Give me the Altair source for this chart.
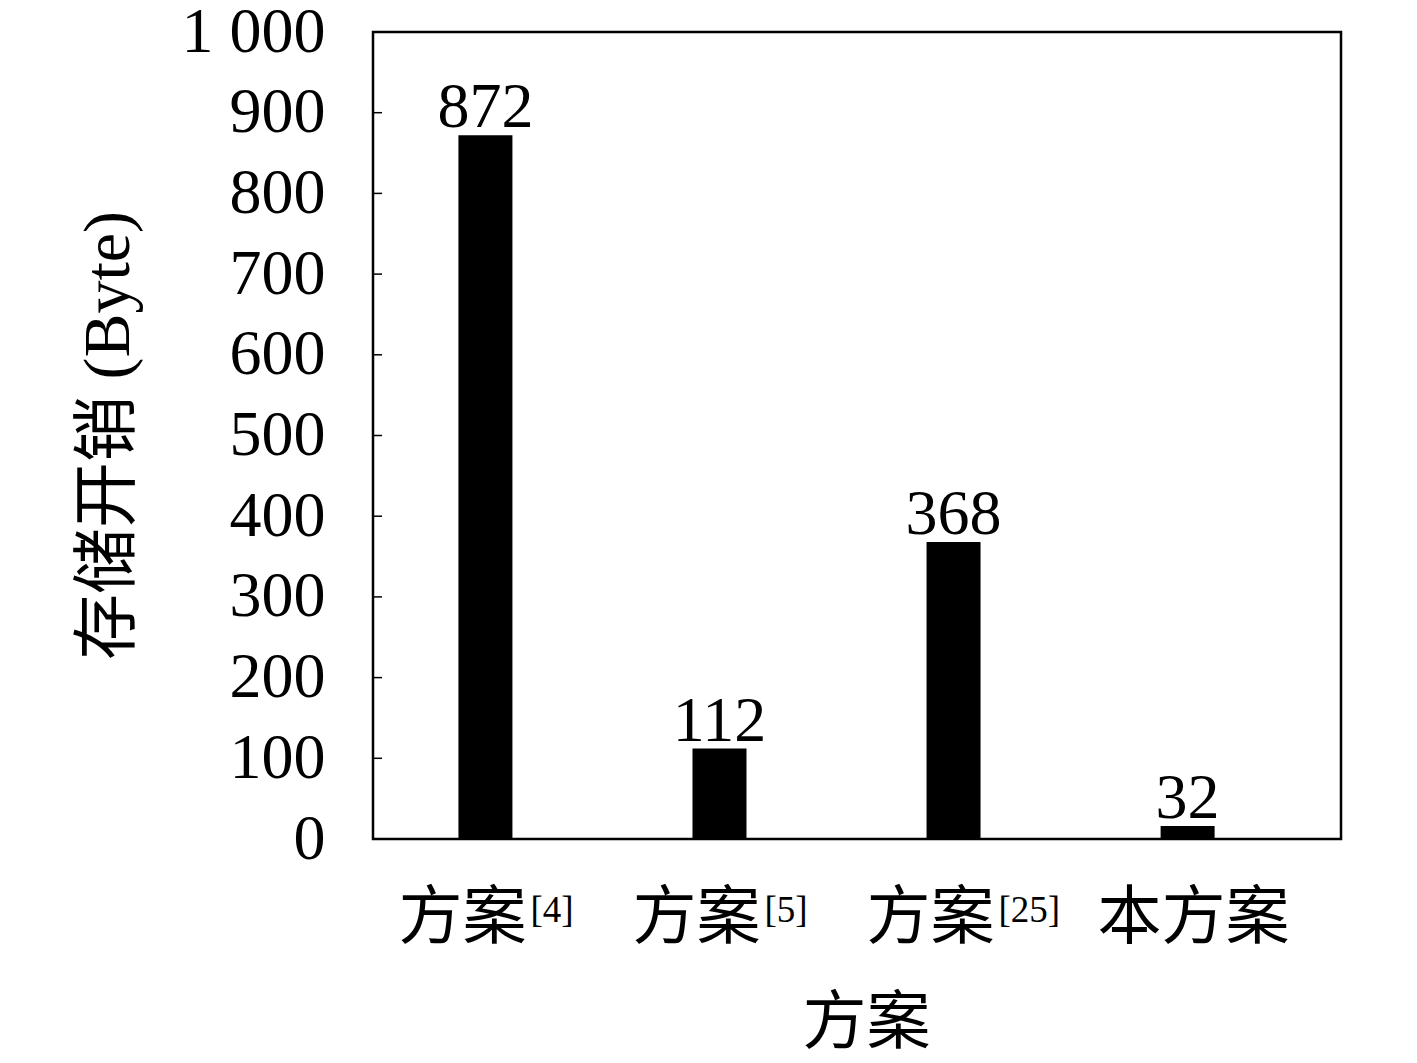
import altair as alt
import pandas as pd

# ---- data ----
schemes = ["方案", "方案", "方案", "本方案"]
refs = ["[4]", "[5]", "[25]", ""]
bar_heights = [872, 112, 368, 16]
bar_labels = ["872", "112", "368", "32"]
y_ticks = [0, 100, 200, 300, 400, 500, 600, 700, 800, 900, 1000]

df = pd.DataFrame({
    "idx": list(range(1, len(schemes) + 1)),
    "scheme": schemes,
    "ref": refs,
    "value": bar_heights,
    "label": bar_labels,
})
ticks_df = pd.DataFrame({"t": y_ticks})

FONT = "Liberation Serif, Noto Sans CJK SC"
W, H = 968, 807

xscale = alt.Scale(domain=[0.541, 4.634], nice=False, zero=False)
yscale = alt.Scale(domain=[0, 1000], nice=False)

base = alt.Chart(df)

bars = base.mark_bar(size=54, color="black").encode(
    x=alt.X("idx:Q", scale=xscale,
            axis=alt.Axis(labels=False, ticks=False, domain=False, grid=False,
                          title="方案", titleFont=FONT, titleFontSize=64,
                          titleFontWeight="normal", titleColor="black",
                          titleX=493, titleY=184, titleBaseline="middle",
                          titleAlign="center")),
    y=alt.Y("value:Q", scale=yscale,
            axis=alt.Axis(values=y_ticks, ticks=False, domain=False, grid=False,
                          labelFont=FONT, labelFontSize=64, labelColor="black",
                          labelPadding=48, labelBaseline="middle",
                          labelExpr="datum.value == 1000 ? '1 000' : datum.label",
                          title="存储开销 (Byte)", titleFont=FONT, titleFontSize=66,
                          titleFontWeight="normal", titleColor="black",
                          titleX=-265, titleY=403, titleAngle=-90,
                          titleBaseline="middle", titleAlign="center")),
)

values = base.mark_text(font=FONT, fontSize=64, color="black",
                        baseline="alphabetic", dy=-8).encode(
    x=alt.X("idx:Q", scale=xscale),
    y=alt.Y("value:Q", scale=yscale),
    text="label:N",
)

tick_rules = alt.Chart(ticks_df).mark_rule(color="black", strokeWidth=1.5).encode(
    y=alt.Y("t:Q", scale=yscale),
    x=alt.value(0),
    x2=alt.value(9),
)

main_with_ref = base.transform_filter("datum.ref != ''").mark_text(
    font=FONT, fontSize=64, color="black", align="right", baseline="middle", dx=41
).encode(
    x=alt.X("idx:Q", scale=xscale),
    y=alt.value(H + 80),
    text="scheme:N",
)

main_no_ref = base.transform_filter("datum.ref == ''").mark_text(
    font=FONT, fontSize=64, color="black", align="center", baseline="middle", dx=6
).encode(
    x=alt.X("idx:Q", scale=xscale),
    y=alt.value(H + 80),
    text="scheme:N",
)

sups = base.transform_filter("datum.ref != ''").mark_text(
    font=FONT, fontSize=37, color="black", align="left", baseline="middle", dx=45
).encode(
    x=alt.X("idx:Q", scale=xscale),
    y=alt.value(H + 72),
    text="ref:N",
)

chart = alt.layer(bars, values, tick_rules, main_with_ref, main_no_ref, sups).properties(
    width=W, height=H,
    autosize=alt.AutoSizeParams(type="none"),
    padding={"left": 365, "top": 24, "right": 68, "bottom": 215},
).configure(
    background="white",
    view=alt.ViewConfig(stroke="black", strokeWidth=2.5),
)

chart.save("out.html", embed_options={"renderer": "svg", "actions": False})
